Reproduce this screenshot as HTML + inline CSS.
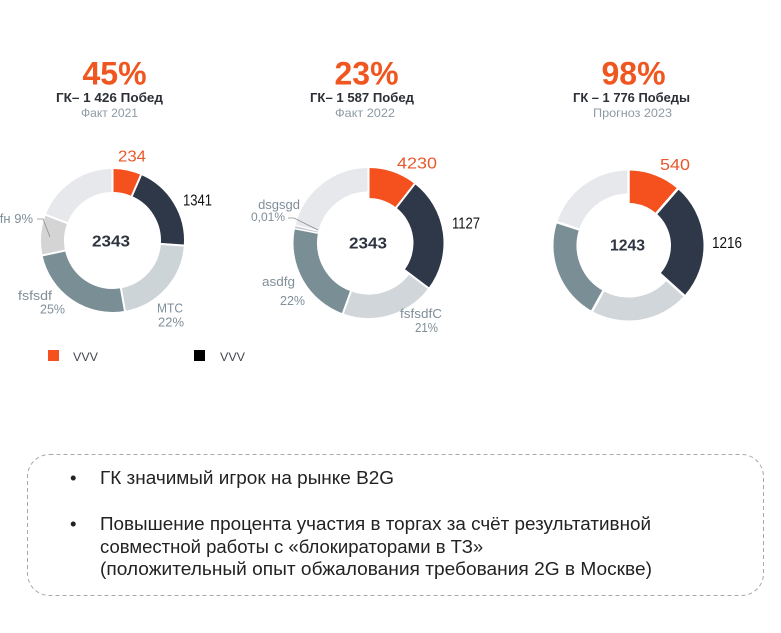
<!DOCTYPE html>
<html>
<head>
<meta charset="utf-8">
<style>
  html, body { margin: 0; padding: 0; background: #ffffff; }
  body { width: 781px; height: 633px; overflow: hidden; }
  svg { display: block; font-family: "Liberation Sans", "Noto Sans CJK JP", sans-serif; }
</style>
</head>
<body>
<svg width="781" height="633" viewBox="0 0 781 633" xmlns="http://www.w3.org/2000/svg">
  <rect width="781" height="633" fill="#ffffff"/>

  <!-- ===== Headers ===== -->
  <g text-anchor="middle">
    <text x="114.5" y="84.5" font-size="32" font-weight="bold" fill="#f0561f">45%</text>
    <text x="109.5" y="102" font-size="12.5" font-weight="bold" fill="#2b2f36" textLength="107" lengthAdjust="spacingAndGlyphs">ГК– 1 426 Побед</text>
    <text x="109.5" y="117" font-size="12" fill="#8d9aa4" textLength="57" lengthAdjust="spacingAndGlyphs">Факт 2021</text>

    <text x="366.5" y="84.5" font-size="32" font-weight="bold" fill="#f0561f">23%</text>
    <text x="362" y="102" font-size="12.5" font-weight="bold" fill="#2b2f36" textLength="104" lengthAdjust="spacingAndGlyphs">ГК– 1 587 Побед</text>
    <text x="365" y="117" font-size="12" fill="#8d9aa4" textLength="60" lengthAdjust="spacingAndGlyphs">Факт 2022</text>

    <text x="633.5" y="84.5" font-size="32" font-weight="bold" fill="#f0561f">98%</text>
    <text x="631.5" y="102" font-size="12.5" font-weight="bold" fill="#2b2f36" textLength="117" lengthAdjust="spacingAndGlyphs">ГК – 1 776 Победы</text>
    <text x="632.5" y="117" font-size="12" fill="#8d9aa4" textLength="79" lengthAdjust="spacingAndGlyphs">Прогноз 2023</text>
  </g>

  <!-- ===== Donut 1 ===== -->
  <g fill="none">
    <circle cx="112.5" cy="240.5" r="60" stroke="#f4511e" stroke-width="23" pathLength="360" stroke-dasharray="23.5 400" transform="rotate(-90 112.5 240.5)"/>
    <circle cx="112.5" cy="240.5" r="60" stroke="#2e3848" stroke-width="23" pathLength="360" stroke-dasharray="70.5 400" transform="rotate(-66.5 112.5 240.5)"/>
    <circle cx="112.5" cy="240.5" r="60" stroke="#cdd4d7" stroke-width="23" pathLength="360" stroke-dasharray="76 400" transform="rotate(4 112.5 240.5)"/>
    <circle cx="112.5" cy="240.5" r="60" stroke="#7a8e96" stroke-width="23" pathLength="360" stroke-dasharray="88 400" transform="rotate(80 112.5 240.5)"/>
    <circle cx="112.5" cy="240.5" r="60" stroke="#d4d4d4" stroke-width="23" pathLength="360" stroke-dasharray="33 400" transform="rotate(168 112.5 240.5)"/>
    <circle cx="112.5" cy="240.5" r="60" stroke="#e6e8eb" stroke-width="23" pathLength="360" stroke-dasharray="69 400" transform="rotate(201 112.5 240.5)"/>
  </g>
  <g stroke="#ffffff" stroke-width="2">
    <line x1="112.5" y1="200" x2="112.5" y2="164" transform="rotate(0 112.5 240.5)"/>
    <line x1="112.5" y1="200" x2="112.5" y2="164" transform="rotate(23.5 112.5 240.5)"/>
    <line x1="112.5" y1="200" x2="112.5" y2="164" transform="rotate(94 112.5 240.5)"/>
    <line x1="112.5" y1="200" x2="112.5" y2="164" transform="rotate(170 112.5 240.5)"/>
    <line x1="112.5" y1="200" x2="112.5" y2="164" transform="rotate(258 112.5 240.5)"/>
    <line x1="112.5" y1="200" x2="112.5" y2="164" transform="rotate(291 112.5 240.5)"/>
  </g>
  <polyline points="37,219 43,219 50,237" fill="none" stroke="#8a8f94" stroke-width="0.8"/>
  <text x="118" y="161.5" font-size="16" fill="#e8582a" textLength="28" lengthAdjust="spacingAndGlyphs">234</text>
  <text x="183" y="205.5" font-size="16" fill="#111111" textLength="29" lengthAdjust="spacingAndGlyphs">1341</text>
  <text x="111" y="246.5" font-size="16" font-weight="bold" fill="#2e3440" text-anchor="middle" textLength="38" lengthAdjust="spacingAndGlyphs">2343</text>
  <g font-size="13" fill="#7f8e98">
    <text x="33" y="223" text-anchor="end">dfgfн 9%</text>
    <text x="18" y="300" textLength="34" lengthAdjust="spacingAndGlyphs">fsfsdf</text>
    <text x="40" y="313.5" textLength="25" lengthAdjust="spacingAndGlyphs">25%</text>
    <text x="157" y="312.5" textLength="26" lengthAdjust="spacingAndGlyphs">МТС</text>
    <text x="158" y="326.5" textLength="26" lengthAdjust="spacingAndGlyphs">22%</text>
  </g>

  <!-- Legend -->
  <rect x="48" y="350" width="11" height="11" fill="#f4511e"/>
  <text x="73" y="361" font-size="12" fill="#444a52" textLength="25" lengthAdjust="spacingAndGlyphs">VVV</text>
  <rect x="194" y="350" width="11" height="11" fill="#000000"/>
  <text x="220" y="361" font-size="12" fill="#444a52" textLength="25" lengthAdjust="spacingAndGlyphs">VVV</text>

  <!-- ===== Donut 2 ===== -->
  <g fill="none">
    <circle cx="368.5" cy="243" r="60" stroke="#f4511e" stroke-width="30" pathLength="360" stroke-dasharray="38 400" transform="rotate(-90 368.5 243)"/>
    <circle cx="368.5" cy="243" r="60" stroke="#2e3848" stroke-width="30" pathLength="360" stroke-dasharray="89 400" transform="rotate(-52 368.5 243)"/>
    <circle cx="368.5" cy="243" r="63.25" stroke="#d0d6d9" stroke-width="23.5" pathLength="360" stroke-dasharray="73 400" transform="rotate(37 368.5 243)"/>
    <circle cx="368.5" cy="243" r="63.25" stroke="#7a8e96" stroke-width="23.5" pathLength="360" stroke-dasharray="81 400" transform="rotate(110 368.5 243)"/>
    <circle cx="368.5" cy="243" r="63.25" stroke="#c4cacf" stroke-width="23.5" pathLength="360" stroke-dasharray="2.5 400" transform="rotate(191 368.5 243)"/>
    <circle cx="368.5" cy="243" r="63.25" stroke="#e6e8eb" stroke-width="23.5" pathLength="360" stroke-dasharray="76.5 400" transform="rotate(193.5 368.5 243)"/>
  </g>
  <g stroke="#ffffff" stroke-width="2">
    <line x1="368.5" y1="203" x2="368.5" y2="164" transform="rotate(0 368.5 243)"/>
    <line x1="368.5" y1="203" x2="368.5" y2="164" transform="rotate(38 368.5 243)"/>
    <line x1="368.5" y1="203" x2="368.5" y2="164" transform="rotate(127 368.5 243)"/>
    <line x1="368.5" y1="203" x2="368.5" y2="164" transform="rotate(200 368.5 243)"/>
    <line x1="368.5" y1="203" x2="368.5" y2="164" stroke-width="1.5" transform="rotate(281 368.5 243)"/>
    <line x1="368.5" y1="203" x2="368.5" y2="164" stroke-width="1.5" transform="rotate(283.5 368.5 243)"/>
  </g>
  <polyline points="288,218 294,218 318,230" fill="none" stroke="#8a8f94" stroke-width="0.8"/>
  <text x="397" y="168.5" font-size="16" fill="#e8582a" textLength="40" lengthAdjust="spacingAndGlyphs">4230</text>
  <text x="452" y="228.5" font-size="16" fill="#111111" textLength="28" lengthAdjust="spacingAndGlyphs">1127</text>
  <text x="368" y="248.5" font-size="16" font-weight="bold" fill="#2e3440" text-anchor="middle" textLength="38" lengthAdjust="spacingAndGlyphs">2343</text>
  <g font-size="13" fill="#7f8e98">
    <text x="300" y="209" text-anchor="end">dsgsgd</text>
    <text x="285" y="221" text-anchor="end" font-size="12">0,01%</text>
    <text x="262" y="286" textLength="33" lengthAdjust="spacingAndGlyphs">asdfg</text>
    <text x="280" y="305" textLength="25" lengthAdjust="spacingAndGlyphs">22%</text>
    <text x="400" y="318" textLength="42" lengthAdjust="spacingAndGlyphs">fsfsdfC</text>
    <text x="415" y="332" textLength="23" lengthAdjust="spacingAndGlyphs">21%</text>
  </g>

  <!-- ===== Donut 3 ===== -->
  <g fill="none">
    <circle cx="628.5" cy="245.5" r="58.75" stroke="#f4511e" stroke-width="32.5" pathLength="360" stroke-dasharray="41 400" transform="rotate(-90 628.5 245.5)"/>
    <circle cx="628.5" cy="245.5" r="58.75" stroke="#2e3848" stroke-width="32.5" pathLength="360" stroke-dasharray="91 400" transform="rotate(-49 628.5 245.5)"/>
    <circle cx="628.5" cy="245.5" r="63.5" stroke="#d0d6d9" stroke-width="23" pathLength="360" stroke-dasharray="77 400" transform="rotate(42 628.5 245.5)"/>
    <circle cx="628.5" cy="245.5" r="63.5" stroke="#7a8e96" stroke-width="23" pathLength="360" stroke-dasharray="79 400" transform="rotate(119 628.5 245.5)"/>
    <circle cx="628.5" cy="245.5" r="63.5" stroke="#e6e8eb" stroke-width="23" pathLength="360" stroke-dasharray="72 400" transform="rotate(198 628.5 245.5)"/>
  </g>
  <g stroke="#ffffff" stroke-width="2.5">
    <line x1="628.5" y1="205" x2="628.5" y2="166" transform="rotate(0 628.5 245.5)"/>
    <line x1="628.5" y1="205" x2="628.5" y2="166" transform="rotate(41 628.5 245.5)"/>
    <line x1="628.5" y1="205" x2="628.5" y2="166" transform="rotate(132 628.5 245.5)"/>
    <line x1="628.5" y1="205" x2="628.5" y2="166" transform="rotate(209 628.5 245.5)"/>
    <line x1="628.5" y1="205" x2="628.5" y2="166" transform="rotate(288 628.5 245.5)"/>
  </g>
  <text x="660" y="170" font-size="16" fill="#e8582a" textLength="30" lengthAdjust="spacingAndGlyphs">540</text>
  <text x="712" y="248" font-size="16" fill="#111111" textLength="30" lengthAdjust="spacingAndGlyphs">1216</text>
  <text x="627.5" y="250.5" font-size="16" font-weight="bold" fill="#2e3440" text-anchor="middle" textLength="35" lengthAdjust="spacingAndGlyphs">1243</text>

  <!-- ===== Bottom box ===== -->
  <rect x="27.5" y="454.5" width="736" height="141" rx="22" ry="22" fill="none" stroke="#a9a9a9" stroke-width="1" stroke-dasharray="4 3"/>
  <g font-size="18.5" fill="#222222">
    <text x="70" y="484">•</text>
    <text x="100" y="484" textLength="294" lengthAdjust="spacingAndGlyphs">ГК значимый игрок на рынке B2G</text>
    <text x="70" y="530">•</text>
    <text x="100" y="530" textLength="551" lengthAdjust="spacingAndGlyphs">Повышение процента участия в торгах за счёт результативной</text>
    <text x="100" y="553">совместной работы с «блокираторами в ТЗ»</text>
    <text x="100" y="575" textLength="552" lengthAdjust="spacingAndGlyphs">(положительный опыт обжалования требования 2G в Москве)</text>
  </g>
</svg>
</body>
</html>
